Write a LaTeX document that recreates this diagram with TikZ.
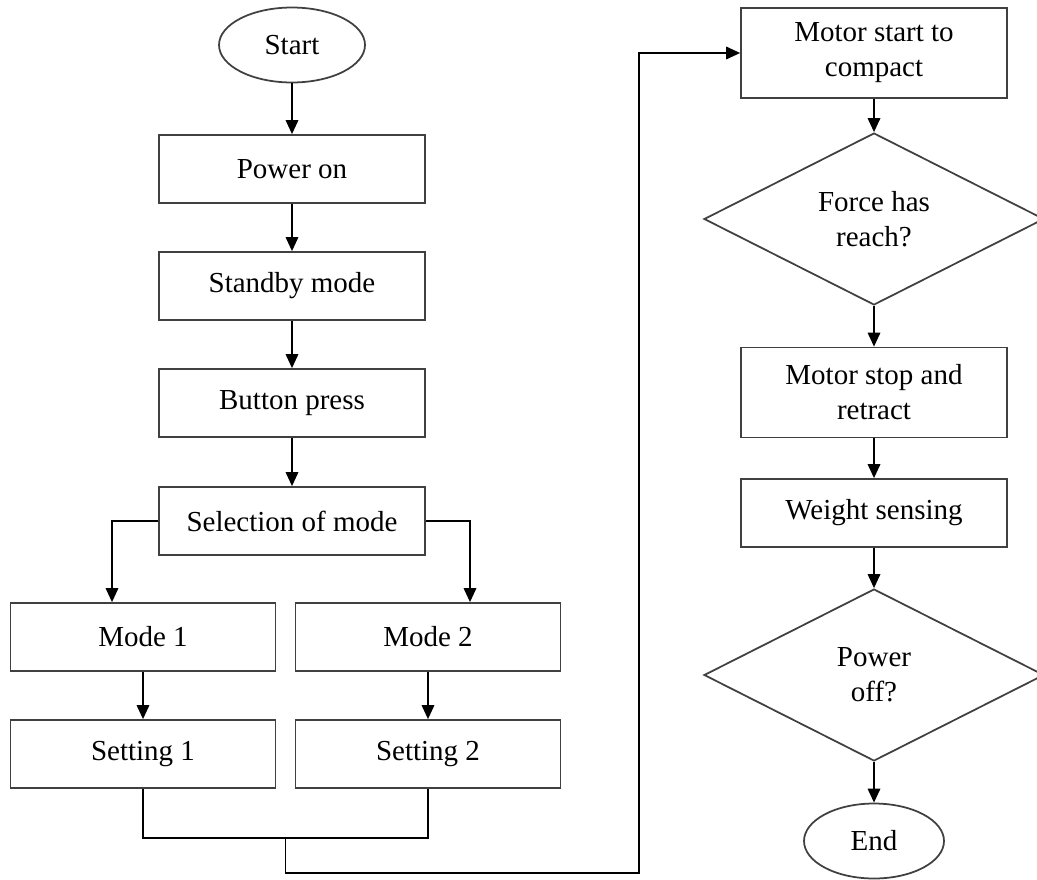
\documentclass[tikz,border=0pt]{standalone}
\usepackage{fontspec}
\setmainfont{Liberation Serif}
\usetikzlibrary{shapes.geometric,arrows.meta}

\tikzstyle{flow_style}=[-{Triangle[length=0.28cm,width=0.25cm]},
  x=0.02cm, y=-0.02cm,
  line width=1pt,
  process/.style={rectangle,draw=black!75,fill=white,minimum width=5.32cm,minimum height=1.36cm,align=center,font=\fontsize{16.5}{20}\selectfont},
  tall/.style={minimum height=1.8cm},
  decision/.style={diamond,draw=black!75,aspect=2,inner sep=0pt,minimum width=6.8cm,minimum height=3.44cm,align=center,font=\fontsize{16.5}{20}\selectfont},
  terminal/.style={ellipse,draw=black!75,inner sep=0pt,minimum width=2.92cm,minimum height=1.5cm,font=\fontsize{16.5}{20}\selectfont},]

\begin{document}
\begin{tikzpicture}[flow_style]

    \useasboundingbox (0,0) rectangle (1037,879);

    % Left column
    \node[terminal] (start) at (292,45) {Start};
    \foreach \name / \y / \txt in {1/169/Power on, 2/286/Standby mode, 3/403/Button press, 4/521/Selection of mode}
        \node[process] (P-\name) at (292,\y) {\txt};

    % The two modes
    \node[process, minimum width=5.3cm] (M-1) at (143,637) {Mode 1};
    \node[process, minimum width=5.3cm] (M-2) at (428,637) {Mode 2};
    \node[process, minimum width=5.3cm] (S-1) at (143,754) {Setting 1};
    \node[process, minimum width=5.3cm] (S-2) at (428,754) {Setting 2};

    % Right column
    \node[process, tall] (R-1) at (874,53) {Motor start to\\compact};
    \node[decision] (D-1) at (874,219) {Force has\\reach?};
    \node[process, tall] (R-2) at (874,392.5) {Motor stop and\\retract};
    \node[process] (R-3) at (874,513) {Weight sensing};
    \node[decision] (D-2) at (874,675) {Power\\off?};
    \node[terminal, minimum width=2.8cm] (end) at (874,841) {End};

    \coordinate (merge) at (285.5,838);
    \coordinate (low) at (285.5,873);
    \coordinate (riser) at (639,53);

    % Straight arrows down each column
    \foreach \source / \dest in {start/P-1, P-1/P-2, P-2/P-3, P-3/P-4, M-1/S-1, M-2/S-2,
                                 R-1/D-1, D-1/R-2, R-2/R-3, R-3/D-2, D-2/end}
        \draw (\source) -- (\dest);

    % Split into the two modes
    \draw (P-4.west) -| ([xshift=-0.62cm]M-1.north);
    \draw (P-4.east) -| ([xshift=0.84cm]M-2.north);

    % Join the settings and go on to the motor
    \draw[-] (S-1.south) |- (merge) -| (S-2.south);
    \draw (merge) -- (low) -| (riser) -- (R-1.west);

\end{tikzpicture}
\end{document}
